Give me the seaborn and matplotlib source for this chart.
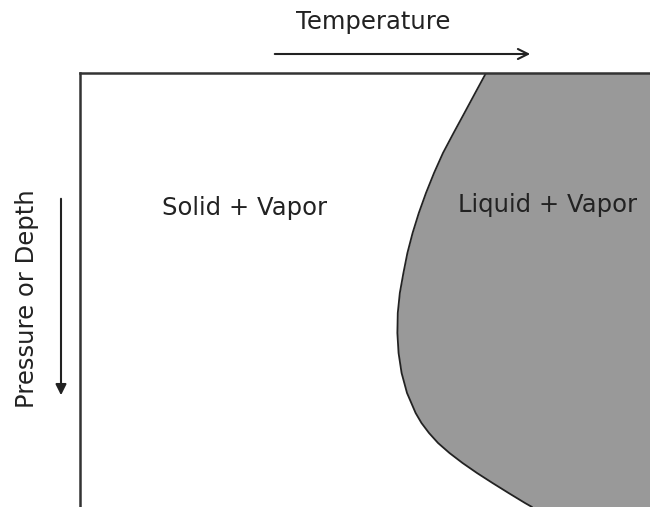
import matplotlib
matplotlib.use("Agg")
import matplotlib.pyplot as plt
import seaborn as sns
import pandas as pd

# boundary between the two regions (temperature 0-100, depth 0-100 downwards)
boundary_depth = [0, 4.61, 9.22, 13.82, 18.43, 23.04, 27.65, 32.26, 36.87, 41.47,
                  46.08, 50.69, 55.30, 59.91, 64.52, 69.12, 73.73, 78.34, 80.65,
                  82.95, 85.25, 87.56, 89.86, 92.17, 94.47, 96.77, 99.08, 100]
boundary_temp = [71.23, 69.33, 67.44, 65.54, 63.68, 62.11, 60.70, 59.44, 58.35,
                 57.44, 56.74, 56.11, 55.75, 55.68, 55.89, 56.42, 57.37, 58.88,
                 59.91, 61.23, 62.81, 64.82, 67.11, 69.65, 72.37, 75.18, 78.07,
                 79.30]

region_labels = ["Solid + Vapor", "Liquid + Vapor"]
label_temp = [28.9, 82.0]
label_depth = [31.0, 30.5]

x_title = "Temperature"
y_title = "Pressure or Depth"

sns.set_style("white")
plt.rcParams["font.family"] = ["DejaVu Sans"]

df = pd.DataFrame({"temp": boundary_temp, "depth": boundary_depth})

fig = plt.figure(figsize=(6.5, 5.07), dpi=100)
ax = fig.add_axes([80 / 650, 0, 570 / 650, 434 / 507])

# shaded liquid + vapor region
ax.fill_betweenx(df["depth"], df["temp"], 100, color="#999999", linewidth=0)
sns.lineplot(data=df, x="temp", y="depth", sort=False, estimator=None,
             color="#222222", linewidth=1.3, ax=ax, solid_joinstyle="round")

for lab, t, d in zip(region_labels, label_temp, label_depth):
    ax.text(t, d, lab, ha="center", va="center", fontsize=17.5, color="#222222")

ax.set_xlim(0, 100)
ax.set_ylim(100, 0)
ax.set_xticks([])
ax.set_yticks([])
ax.set_xlabel("")
ax.set_ylabel("")
for side in ["right", "bottom"]:
    ax.spines[side].set_visible(False)
for side in ["top", "left"]:
    ax.spines[side].set_color("#333333")
    ax.spines[side].set_linewidth(1.8)

# direction arrows + titles (figure pixels, origin bottom-left)
H = 507
fig.text(373 / 650, (H - 22) / H, x_title, ha="center", va="center",
         fontsize=17.5, color="#222222")
ax.annotate("", xy=(533, H - 54), xytext=(272, H - 54), xycoords="figure pixels",
            textcoords="figure pixels",
            arrowprops=dict(arrowstyle="->", color="#222222", lw=1.5,
                            mutation_scale=18))
fig.text(27 / 650, (H - 299) / H, y_title, ha="center", va="center",
         rotation=90, fontsize=17.5, color="#222222")
ax.annotate("", xy=(61, H - 398), xytext=(61, H - 196), xycoords="figure pixels",
            textcoords="figure pixels",
            arrowprops=dict(arrowstyle="-|>", color="#222222", lw=1.5,
                            mutation_scale=16))

fig.savefig("out.png", dpi=100)
